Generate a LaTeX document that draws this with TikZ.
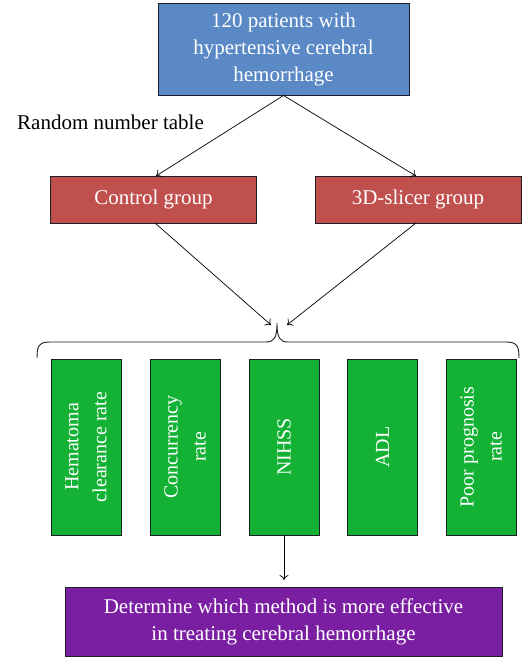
\documentclass[tikz,border=0pt]{standalone}
\usepackage{fontspec}
\setmainfont{Liberation Serif}
\usetikzlibrary{arrows.meta}
\definecolor{cblue}{RGB}{90,137,198}
\definecolor{cred}{RGB}{192,80,77}
\definecolor{cgreen}{RGB}{20,178,52}
\definecolor{cpurple}{RGB}{123,31,162}
\definecolor{cline}{RGB}{30,30,40}
\tikzset{
  box/.style={draw=cline, line width=0.9pt, text=white, inner sep=0pt, align=center,
    font=\fontsize{21}{27}\selectfont},
  topbox/.style={box, fill=cblue, minimum width=251pt, minimum height=92pt},
  grpbox/.style={box, fill=cred, minimum width=206pt, minimum height=47pt},
  outbox/.style={box, fill=cgreen, minimum width=70pt, minimum height=176pt},
  endbox/.style={box, fill=cpurple, minimum width=437pt, minimum height=69pt},
  arr/.style={draw=black, line width=0.7pt, -{To[length=5pt,width=9pt]}},
  vtext/.style={rotate=90, align=center, font=\fontsize{20}{28}\selectfont, text=white}
}
\begin{document}
\begin{tikzpicture}[x=1pt,y=-1pt]
\useasboundingbox (0,0) rectangle (524,659);
\fill[white] (0,0) rectangle (524,659);
\node[topbox] (top) at (283.5,49) {120 patients with\\hypertensive cerebral\\hemorrhage};
\node[font=\fontsize{21}{27}\selectfont, anchor=west, inner sep=0pt] (rnt) at (17,122) {Random number table};
\node[grpbox] (ctrl) at (153.5,199.5) {Control group};
\node[grpbox] (slic) at (418,199.5) {3D-slicer group};
\draw[arr] (top.south) -- (156,176);
\draw[arr] (top.south) -- (416,176);
\coordinate (tip) at (277,323);
\coordinate (la) at (271,325);
\coordinate (ra) at (287,325);
\draw[arr] (155,223) -- (la);
\draw[arr] (416,223) -- (ra);
\draw[line width=0.9pt, cline] (37,358) .. controls (37,346) and (39,342) .. (50,342) -- (266,342) .. controls (274,342) and (277,338) .. (tip) .. controls (277,338) and (280,342) .. (288,342) -- (506,342) .. controls (517,342) and (519,346) .. (519,358);
\node[outbox] (b1) at (86,447) {};
\node[vtext] at (b1.center) {Hematoma\\clearance rate};
\node[outbox] (b2) at (185,447) {};
\node[vtext] at (b2.center) {Concurrency\\rate};
\node[outbox] (b3) at (284,447) {};
\node[vtext] at (b3.center) {NIHSS};
\node[outbox] (b4) at (382.5,447) {};
\node[vtext] at (b4.center) {ADL};
\node[outbox] (b5) at (481,447) {};
\node[vtext] at (b5.center) {Poor prognosis\\rate};
\node[endbox] (end) at (283.5,621.5) {Determine which method is more effective\\in treating cerebral hemorrhage};
\draw[arr] (b3.south) -- (284,580);
\end{tikzpicture}
\end{document}
